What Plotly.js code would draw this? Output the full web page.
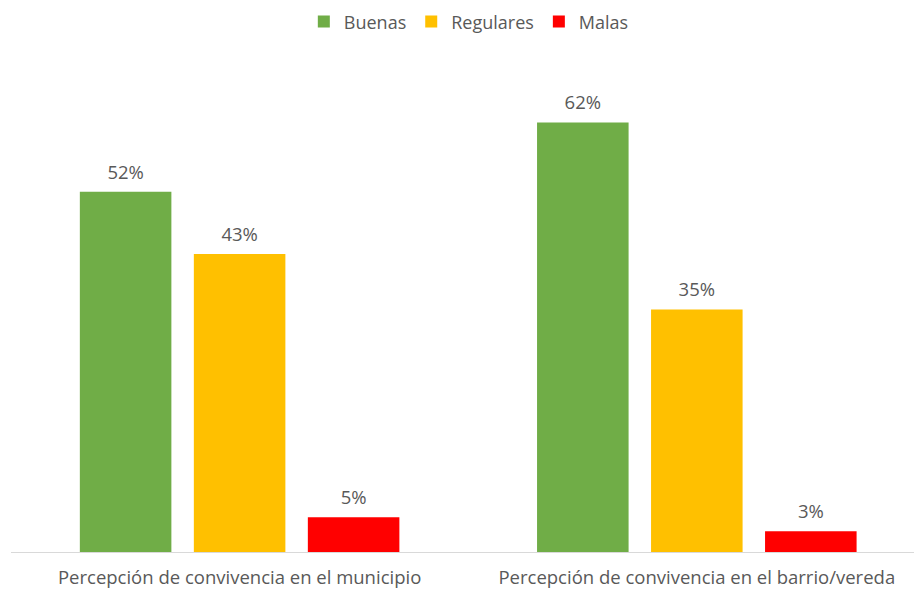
<!DOCTYPE html>
<html><head><meta charset="utf-8">
<script src="https://cdn.plot.ly/plotly-3.0.1.min.js"></script>
<style>html,body{margin:0;padding:0;background:#fff}#c{width:914px;height:590px}</style>
</head><body><div id="c"></div>
<script>
const categories = ["Percepción de convivencia en el municipio", "Percepción de convivencia en el barrio/vereda"];
const seriesNames = ["Buenas", "Regulares", "Malas"];
const buenas = [0.52, 0.62];
const regulares = [0.43, 0.35];
const malas = [0.05, 0.03];
const colors = ["#70AD47", "#FFC000", "#FF0000"];
const values = [buenas, regulares, malas];

const font = "Open Sans, sans-serif";
const traces = [];
values.forEach((v, i) => {
  traces.push({
    type: "bar", x: categories, y: v, name: seriesNames[i],
    marker: {color: colors[i]}, offsetgroup: String(i), hoverinfo: "skip"
  });
});
values.forEach((v, i) => {
  traces.push({
    type: "scatter", mode: "markers+text", x: categories, y: v,
    text: v.map(d => Math.round(d * 100) + "%"),
    textposition: "top center", offsetgroup: String(i),
    marker: {size: 12, opacity: 0, color: colors[i]},
    textfont: {family: font, size: 18.5, color: "#595959"},
    showlegend: false, cliponaxis: false, hoverinfo: "skip"
  });
});

const layout = {
  width: 914, height: 590,
  margin: {l: 11, r: 0, t: 67, b: 38},
  paper_bgcolor: "#fff", plot_bgcolor: "#fff",
  barmode: "group", bargap: 0.252, bargroupgap: 0.197,
  scattermode: "group", scattergap: 0.252,
  font: {family: font, color: "#595959", size: 18.5},
  xaxis: {
    range: [-0.5, 1.475], showline: true, linecolor: "#D9D9D9", linewidth: 1,
    ticks: "", showgrid: false, zeroline: false, ticklabelstandoff: 9,
    tickfont: {family: font, size: 18.5, color: "#595959"}
  },
  yaxis: {range: [0, 0.7], visible: false, showgrid: false, zeroline: false},
  showlegend: true,
  legend: {
    orientation: "h", x: 0.507, xanchor: "center", y: 1.093, yanchor: "middle",
    font: {family: font, size: 18, color: "#595959"}, traceorder: "normal"
  }
};
Plotly.newPlot("c", traces, layout, {displayModeBar: false, staticPlot: true});
</script>
</body></html>
